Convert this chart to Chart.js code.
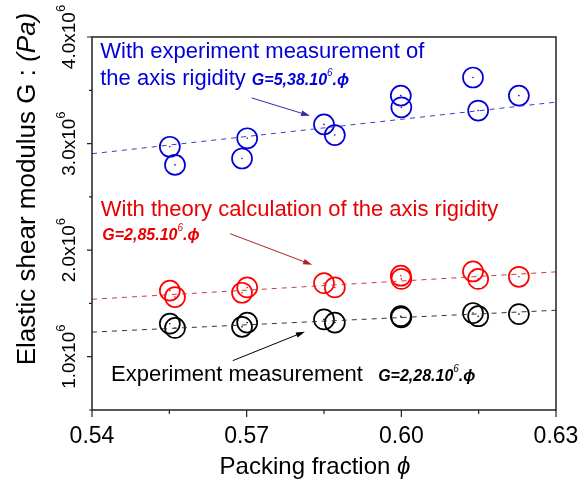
<!DOCTYPE html>
<html>
<head>
<meta charset="utf-8">
<script src="https://cdn.jsdelivr.net/npm/chart.js@4.4.1/dist/chart.umd.min.js"></script>
<style>
  html, body { margin: 0; padding: 0; background: #fff; }
  canvas { display: block; }
</style>
</head>
<body>
<canvas id="gChart" width="579" height="486"></canvas>
<script>
// packing fraction of each sample (shared by the three series)
const phi = [0.5551, 0.5561, 0.5701, 0.5691, 0.5850, 0.5871, 0.5999, 0.6000, 0.6139, 0.6149, 0.6228];

// G in Pa
const gAxisExp = [2.97e6, 2.80e6, 3.05e6, 2.86e6, 3.18e6, 3.08e6, 3.45e6, 3.34e6, 3.62e6, 3.31e6, 3.45e6];
const gAxisTheory = [1.62e6, 1.56e6, 1.65e6, 1.60e6, 1.69e6, 1.65e6, 1.76e6, 1.73e6, 1.80e6, 1.73e6, 1.75e6];
const gExp = [1.31e6, 1.27e6, 1.32e6, 1.28e6, 1.35e6, 1.32e6, 1.38e6, 1.37e6, 1.41e6, 1.38e6, 1.40e6];

// fitted lines G = k.phi, end points
const fitPhi = [0.54, 0.63];
const fitAxisExp = [2.905e6, 3.389e6];
const fitAxisTheory = [1.539e6, 1.796e6];
const fitExp = [1.231e6, 1.436e6];

// axes
const xMajor = [0.54, 0.57, 0.60, 0.63];
const xLabels = ["0.54", "0.57", "0.60", "0.63"];
const xMinor = [0.555, 0.585, 0.615];
const yMajor = [1.0e6, 2.0e6, 3.0e6, 4.0e6];
const yLabels = ["1.0x10", "2.0x10", "3.0x10", "4.0x10"];
const yMinor = [0.5e6, 1.5e6, 2.5e6, 3.5e6];

const FONT = "'Liberation Sans', Arial, sans-serif";
const BLUE = "#0000d8";
const RED = "#e80000";

const pts = (xs, ys) => xs.map((v, i) => ({ x: v, y: ys[i] }));

function circles(ys, color) {
  return {
    type: "scatter",
    data: pts(phi, ys),
    borderColor: color,
    backgroundColor: "rgba(0,0,0,0)",
    pointRadius: 10,
    pointBorderWidth: 1.7,
    pointHoverRadius: 10
  };
}
function dots(ys, color) {
  return {
    type: "scatter",
    data: pts(phi, ys),
    borderColor: color,
    backgroundColor: color,
    pointRadius: 0.8,
    pointBorderWidth: 0
  };
}
function fit(ys, color) {
  return {
    type: "line",
    data: pts(fitPhi, ys),
    borderColor: color,
    borderWidth: 1,
    borderDash: [5, 5],
    pointRadius: 0,
    fill: false
  };
}

// draw a row of text pieces with their own fonts
function runs(ctx, x, y, parts) {
  let cx = x;
  parts.forEach(p => {
    ctx.font = p.font;
    ctx.fillStyle = p.color;
    ctx.fillText(p.t, cx, y + (p.dy || 0));
    cx += ctx.measureText(p.t).width;
  });
  return cx;
}
function runsWidth(ctx, parts) {
  return parts.reduce((w, p) => { ctx.font = p.font; return w + ctx.measureText(p.t).width; }, 0);
}

function arrow(ctx, x1, y1, x2, y2, color) {
  const a = Math.atan2(y2 - y1, x2 - x1);
  ctx.strokeStyle = color;
  ctx.fillStyle = color;
  ctx.lineWidth = 1;
  ctx.beginPath();
  ctx.moveTo(x1, y1);
  ctx.lineTo(x2 - 6 * Math.cos(a), y2 - 6 * Math.sin(a));
  ctx.stroke();
  ctx.beginPath();
  ctx.moveTo(x2, y2);
  ctx.lineTo(x2 - 9 * Math.cos(a) + 2.8 * Math.sin(a), y2 - 9 * Math.sin(a) - 2.8 * Math.cos(a));
  ctx.lineTo(x2 - 9 * Math.cos(a) - 2.8 * Math.sin(a), y2 - 9 * Math.sin(a) + 2.8 * Math.cos(a));
  ctx.closePath();
  ctx.fill();
}

const gFormula = (k, color, size) => [
  { t: "G=" + k + ".10", font: `italic bold ${size}px ${FONT}`, color },
  { t: "6", font: `italic ${Math.round(size * 0.6)}px ${FONT}`, color, dy: -9 },
  { t: ".ϕ", font: `italic bold ${size}px ${FONT}`, color }
];

const framePlugin = {
  id: "frame",
  afterDraw(chart) {
    const { ctx, chartArea: a, scales: { x, y } } = chart;
    const px = v => x.getPixelForValue(v);
    const py = v => y.getPixelForValue(v);
    ctx.save();

    // box
    ctx.strokeStyle = "#222";
    ctx.lineWidth = 1.5;
    ctx.strokeRect(a.left, a.top, a.right - a.left, a.bottom - a.top);

    // tick marks
    ctx.lineWidth = 1.2;
    ctx.beginPath();
    xMajor.forEach(v => { ctx.moveTo(px(v), a.bottom); ctx.lineTo(px(v), a.bottom + 7); });
    xMinor.forEach(v => { ctx.moveTo(px(v), a.bottom); ctx.lineTo(px(v), a.bottom + 4); });
    yMajor.forEach(v => { ctx.moveTo(a.left, py(v)); ctx.lineTo(a.left - 5, py(v)); });
    yMinor.forEach(v => { ctx.moveTo(a.left, py(v)); ctx.lineTo(a.left - 3, py(v)); });
    ctx.stroke();

    // x tick labels
    ctx.fillStyle = "#000";
    ctx.font = `23px ${FONT}`;
    ctx.textAlign = "center";
    ctx.textBaseline = "alphabetic";
    xMajor.forEach((v, i) => ctx.fillText(xLabels[i], px(v), 443));
    ctx.textAlign = "left";

    // y tick labels, rotated
    yMajor.forEach((v, i) => {
      const parts = [
        { t: yLabels[i], font: `19px ${FONT}`, color: "#000" },
        { t: "6", font: `13px ${FONT}`, color: "#000", dy: -10 }
      ];
      const w = runsWidth(ctx, parts);
      ctx.save();
      ctx.translate(75, py(v));
      ctx.rotate(-Math.PI / 2);
      runs(ctx, -w / 2, 0, parts);
      ctx.restore();
    });

    // axis titles
    const xt = [
      { t: "Packing fraction ", font: `24px ${FONT}`, color: "#000" },
      { t: "ϕ", font: `italic 24px ${FONT}`, color: "#000" }
    ];
    runs(ctx, (a.left + a.right) / 2 - 9 - runsWidth(ctx, xt) / 2, 474, xt);

    const yt = [
      { t: "Elastic shear modulus G : ", font: `26px ${FONT}`, color: "#000" },
      { t: "(Pa)", font: `italic 26px ${FONT}`, color: "#000" }
    ];
    ctx.save();
    ctx.translate(35, 189);
    ctx.rotate(-Math.PI / 2);
    runs(ctx, -runsWidth(ctx, yt) / 2, 0, yt);
    ctx.restore();

    // annotations (anchored in data coordinates)
    const big = `22px ${FONT}`;
    runs(ctx, px(0.5416), py(3.803e6), [{ t: "With experiment measurement of", font: big, color: BLUE }]);
    runs(ctx, px(0.5416), py(3.550e6), [{ t: "the axis rigidity ", font: big, color: BLUE }].concat(gFormula("5,38", BLUE, 16)));
    arrow(ctx, px(0.5710), py(3.428e6), px(0.5823), py(3.260e6), "#3030a0");

    runs(ctx, px(0.5417), py(2.322e6), [{ t: "With theory calculation of the axis rigidity", font: big, color: RED }]);
    runs(ctx, px(0.5420), py(2.097e6), gFormula("2,85", RED, 16));
    arrow(ctx, px(0.5668), py(2.154e6), px(0.5827), py(1.863e6), "#b02020");

    runs(ctx, px(0.5437), py(0.776e6), [{ t: "Experiment measurement", font: big, color: "#000" }]);
    runs(ctx, px(0.5955), py(0.776e6), gFormula("2,28", "#000", 16));
    arrow(ctx, px(0.5673), py(0.963e6), px(0.5813), py(1.235e6), "#000");

    ctx.restore();
  }
};

new Chart(document.getElementById("gChart"), {
  data: {
    datasets: [
      fit(fitAxisExp, "#3c3cc8"),
      fit(fitAxisTheory, "#c83c3c"),
      fit(fitExp, "#333"),
      circles(gAxisExp, BLUE),
      circles(gAxisTheory, "#ff0000"),
      circles(gExp, "#000"),
      dots(gAxisExp, BLUE),
      dots(gAxisTheory, "#ff0000"),
      dots(gExp, "#000")
    ]
  },
  options: {
    responsive: false,
    animation: false,
    layout: { padding: { left: 92, top: 37, right: 23, bottom: 76 } },
    plugins: { legend: { display: false }, tooltip: { enabled: false } },
    scales: {
      x: { type: "linear", min: 0.54, max: 0.63, display: false },
      y: { type: "linear", min: 0.5e6, max: 4.0e6, display: false }
    }
  },
  plugins: [framePlugin]
});
</script>
</body>
</html>
